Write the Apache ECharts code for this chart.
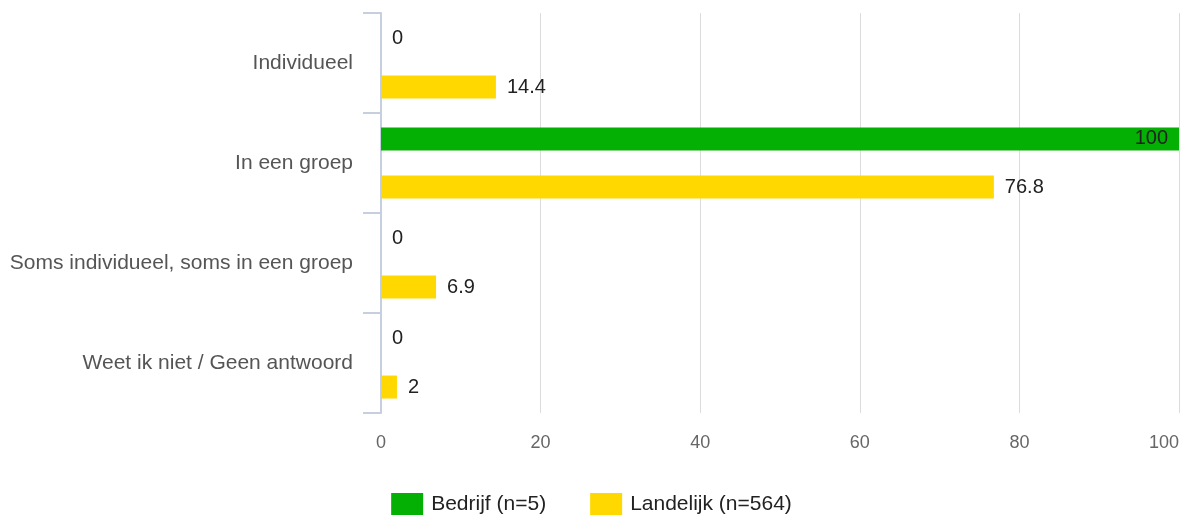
<!DOCTYPE html>
<html>
<head>
<meta charset="utf-8">
<script src="https://cdn.jsdelivr.net/npm/echarts@6/dist/echarts.min.js"></script>
<style>
html, body { margin: 0; padding: 0; background: #fff; }
#chart { width: 1183px; height: 525px; }
</style>
</head>
<body>
<div id="chart"></div>
<script>
// categorieen van boven naar beneden
var categories = ['Individueel', 'In een groep', 'Soms individueel, soms in een groep', 'Weet ik niet / Geen antwoord'];
var seriesNames = ['Bedrijf (n=5)', 'Landelijk (n=564)'];
var bedrijf = [0, 100, 0, 0];
var landelijk = [14.4, 76.8, 6.9, 2];
var xTicks = [0, 20, 40, 60, 80, 100];

var colors = ['#03b003', '#ffd800'];
var font = '"Liberation Sans", Arial, sans-serif';

function toData(values) {
    var out = [];
    for (var i = 0; i < values.length; i++) {
        var item = { value: values[i] };
        // labels at the far end go inside the bar
        if (values[i] >= 95) {
            item.label = { position: 'insideRight', distance: 11 };
        }
        out.push(item);
    }
    return out;
}

var chart = echarts.init(document.getElementById('chart'));

var labelStyle = {
    show: true,
    position: 'right',
    distance: 11,
    color: '#222',
    fontSize: 20,
    fontFamily: font
};

chart.setOption({
    animation: false,
    textStyle: { fontFamily: font },
    grid: { left: 381, right: 4, top: 13, bottom: 112, containLabel: false, outerBoundsMode: 'none' },
    legend: {
        top: 488,
        left: 'center',
        itemWidth: 32,
        itemHeight: 22,
        itemGap: 44,
        textStyle: { color: '#222', fontSize: 21, fontFamily: font, padding: [0, 0, 0, 3] },
        icon: 'rect',
        data: seriesNames
    },
    xAxis: {
        type: 'value',
        min: xTicks[0],
        max: xTicks[xTicks.length - 1],
        interval: 20,
        axisLine: { show: false },
        axisTick: { show: false },
        axisLabel: { color: '#666', fontSize: 18, fontFamily: font, margin: 21, alignMaxLabel: 'right' },
        splitLine: { lineStyle: { color: '#dcdcdc', width: 1 } }
    },
    yAxis: {
        type: 'category',
        inverse: true,
        data: categories,
        axisLine: { show: true, lineStyle: { color: '#c5cfdf', width: 2 } },
        axisTick: { show: true, length: 18, lineStyle: { color: '#c5cfdf', width: 2 } },
        axisLabel: { color: '#555', fontSize: 21, fontFamily: font, margin: 28 }
    },
    series: [{
        name: seriesNames[0],
        type: 'bar',
        barWidth: 23,
        barGap: '109%',
        itemStyle: { color: colors[0] },
        label: labelStyle,
        data: toData(bedrijf)
    }, {
        name: seriesNames[1],
        type: 'bar',
        barWidth: 23,
        barGap: '109%',
        itemStyle: { color: colors[1] },
        label: labelStyle,
        data: toData(landelijk)
    }]
});
</script>
</body>
</html>
